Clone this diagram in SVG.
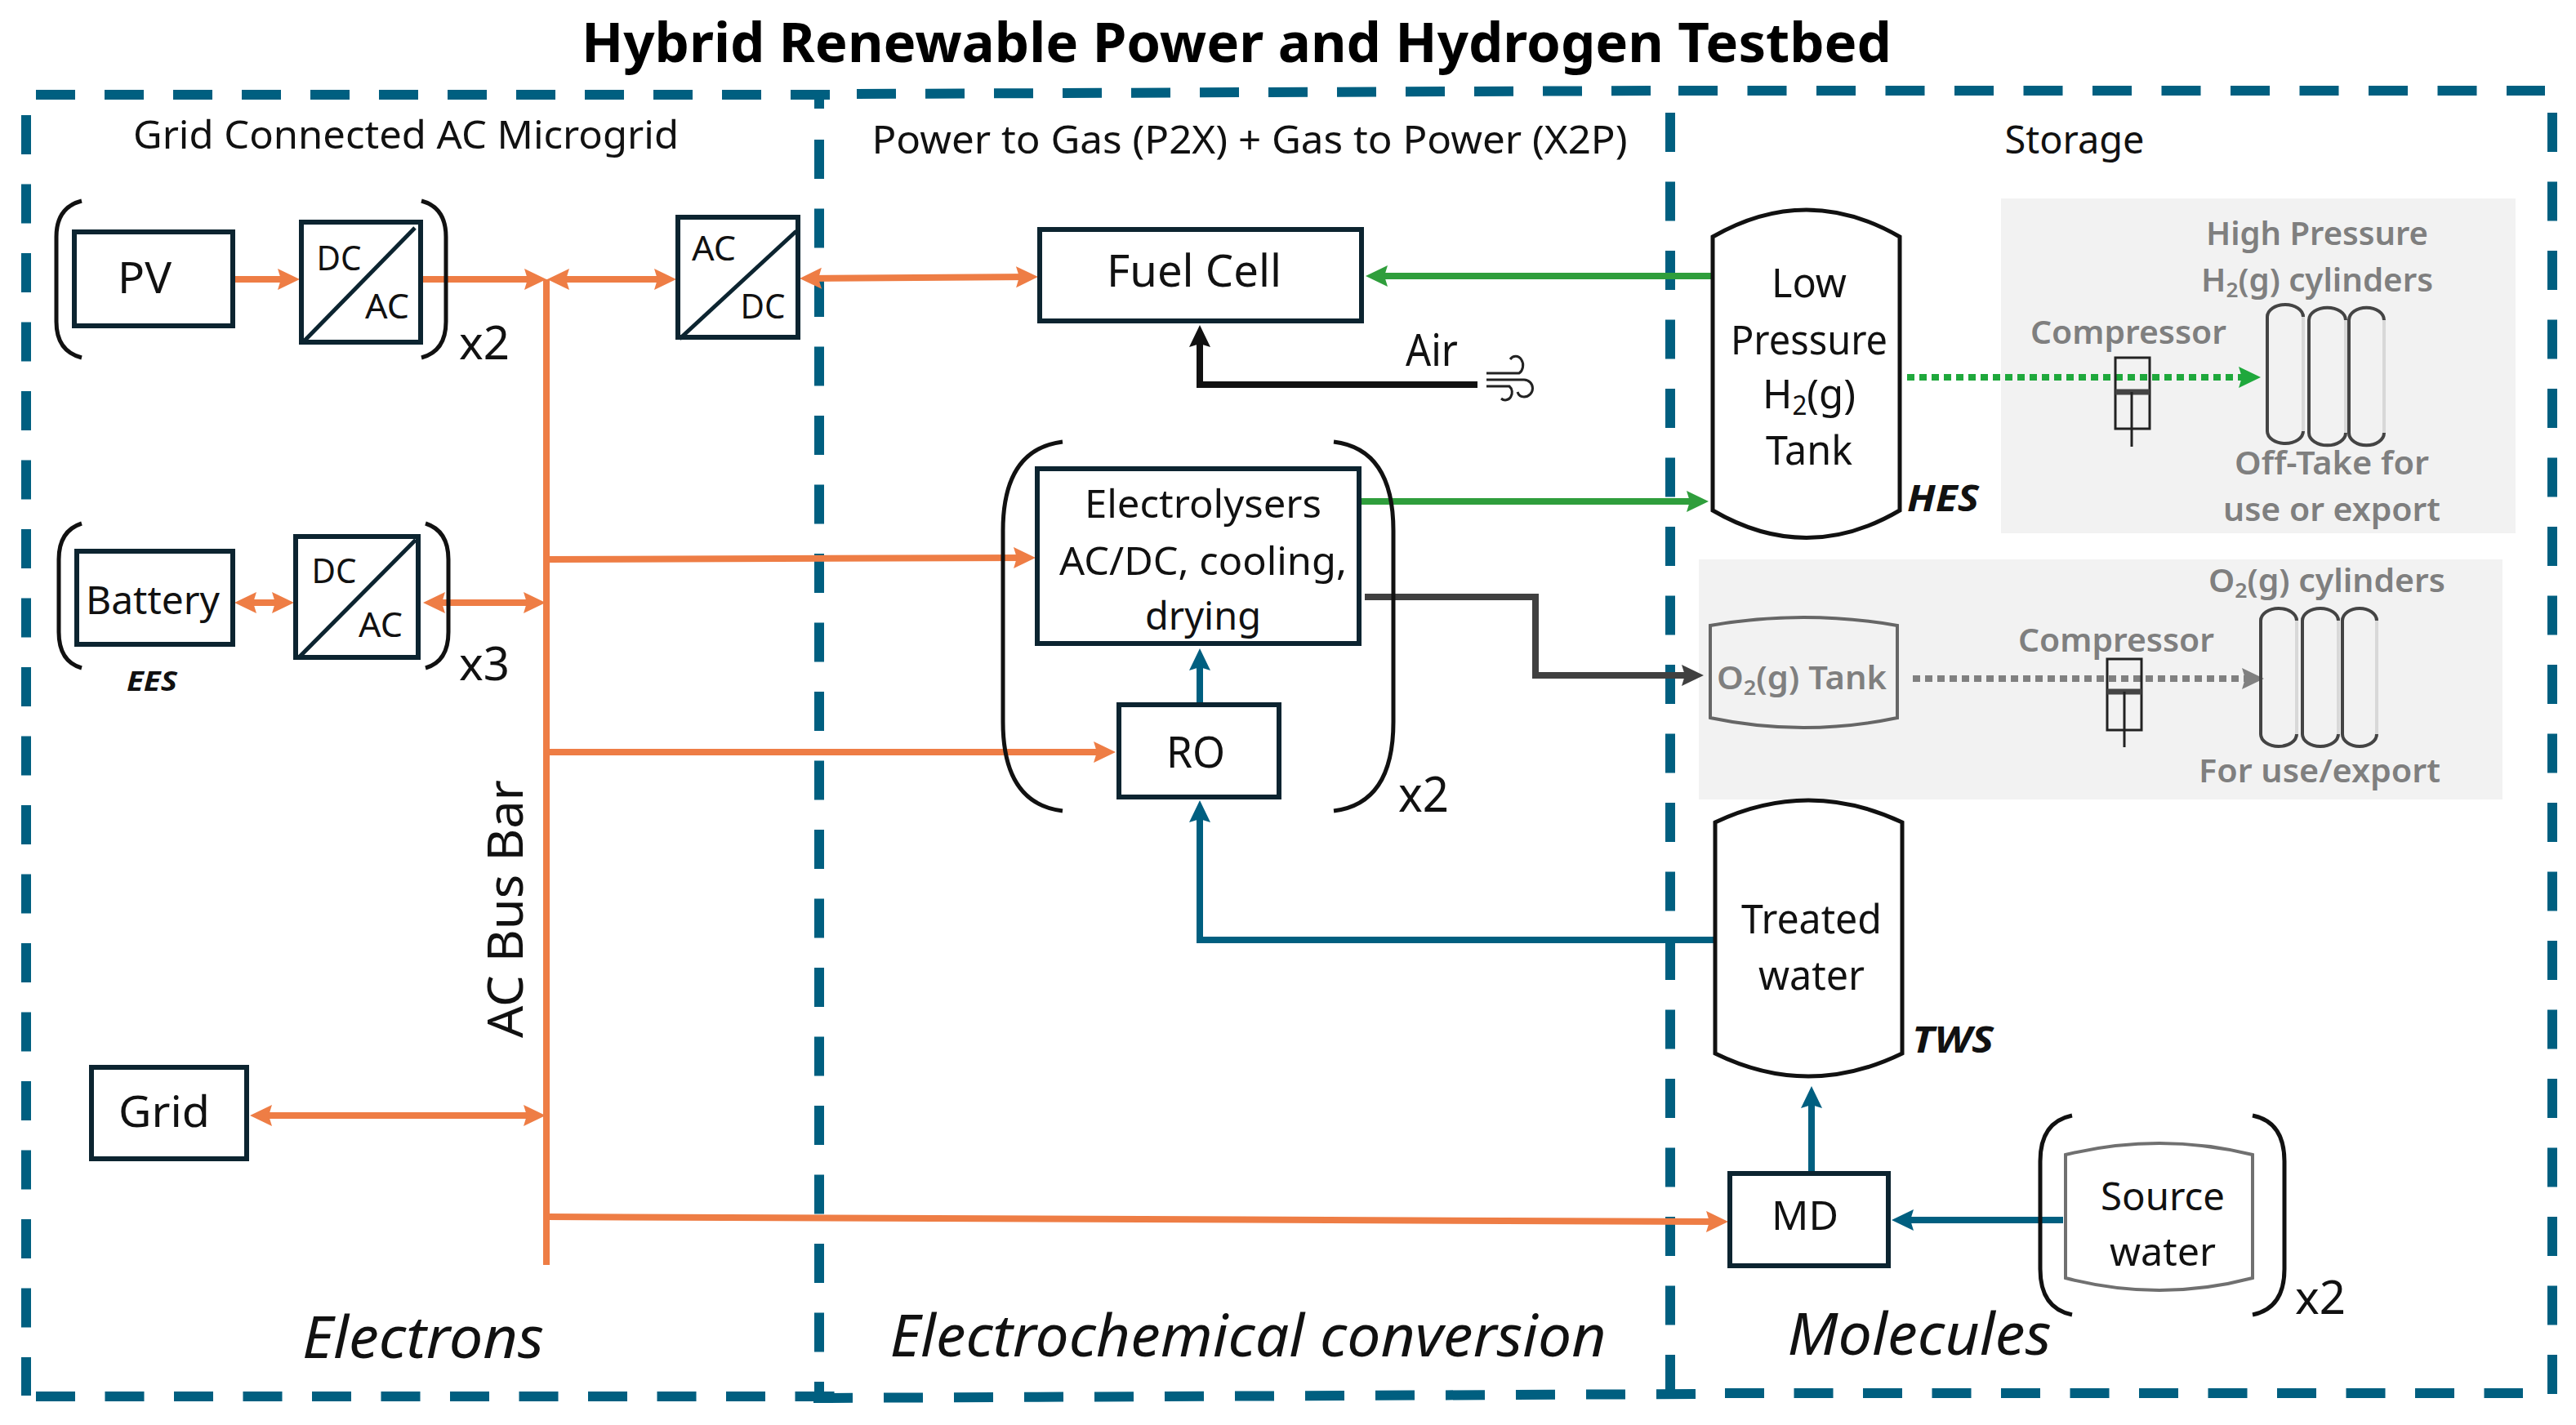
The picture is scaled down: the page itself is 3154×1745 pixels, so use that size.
<svg xmlns="http://www.w3.org/2000/svg" width="3154" height="1745" viewBox="0 0 3154 1745">
<style>
text{font-family:"Noto Sans","Open Sans","Liberation Sans",sans-serif;fill:#111;text-anchor:middle}
.g{fill:#7f7f7f;font-weight:600}
.it{font-style:italic}
.bd{font-style:italic;font-weight:700}
.box{fill:#fff;stroke:#0c2430;stroke-width:6}
.thin{fill:none;stroke:#0c2430;stroke-width:5}
.br{fill:none;stroke:#111;stroke-width:5}
.tank{fill:#fff;stroke:#111;stroke-width:5}
.dash{fill:none;stroke:#005f80;stroke-width:12;stroke-dasharray:48 36.5}
.or{fill:none;stroke:#ee7d45;stroke-width:8}
.gr{fill:none;stroke:#2f9e3c;stroke-width:8}
.te{fill:none;stroke:#005f80;stroke-width:8}
.bk{fill:none;stroke:#111;stroke-width:8}
.dk{fill:none;stroke:#404040;stroke-width:8}
.dotg{fill:none;stroke:#1fa83c;stroke-width:8;stroke-dasharray:9 6}
.dotk{fill:none;stroke:#808080;stroke-width:8;stroke-dasharray:9 6}
.cyl{fill:none;stroke:#444;stroke-width:4}
.cyr{fill:none;stroke:#d8d8d8;stroke-width:4}
</style>
<defs>
<marker id="ao" markerUnits="userSpaceOnUse" markerWidth="28" markerHeight="28" refX="18" refY="13" orient="auto-start-reverse"><path d="M0,0L27,13L0,26L4,13Z" fill="#ee7d45"/></marker>
<marker id="ag" markerUnits="userSpaceOnUse" markerWidth="28" markerHeight="28" refX="18" refY="13" orient="auto-start-reverse"><path d="M0,0L27,13L0,26L4,13Z" fill="#2f9e3c"/></marker>
<marker id="ad" markerUnits="userSpaceOnUse" markerWidth="28" markerHeight="28" refX="18" refY="13" orient="auto-start-reverse"><path d="M0,0L27,13L0,26L4,13Z" fill="#1fa83c"/></marker>
<marker id="at" markerUnits="userSpaceOnUse" markerWidth="28" markerHeight="28" refX="18" refY="13" orient="auto-start-reverse"><path d="M0,0L27,13L0,26L4,13Z" fill="#005f80"/></marker>
<marker id="ab" markerUnits="userSpaceOnUse" markerWidth="28" markerHeight="28" refX="18" refY="13" orient="auto-start-reverse"><path d="M0,0L27,13L0,26L4,13Z" fill="#111"/></marker>
<marker id="ak" markerUnits="userSpaceOnUse" markerWidth="28" markerHeight="28" refX="18" refY="13" orient="auto-start-reverse"><path d="M0,0L27,13L0,26L4,13Z" fill="#404040"/></marker>
<marker id="ah" markerUnits="userSpaceOnUse" markerWidth="28" markerHeight="28" refX="18" refY="13" orient="auto-start-reverse"><path d="M0,0L27,13L0,26L4,13Z" fill="#808080"/></marker>
</defs>
<rect width="3154" height="1745" fill="#fff"/>
<text x="1514" y="76" font-size="66" font-weight="700" textLength="1604" lengthAdjust="spacingAndGlyphs" style="fill:#000">Hybrid Renewable Power and Hydrogen Testbed</text>

<g id="backgrounds">
<rect x="2450" y="243" width="630" height="410" fill="#f2f2f2"/>
<rect x="2080" y="685" width="984" height="294" fill="#f2f2f2"/>
</g>

<g id="regions">
<path class="dash" style="stroke-dasharray:48 36" d="M44,116H1016"/>
<path class="dash" style="stroke-dasharray:48 36" d="M1049,115L2040,111"/>
<path class="dash" d="M2055,111H3116"/>
<path class="dash" d="M32,141V1709"/>
<path class="dash" d="M1003,116V133M1003,171V1716"/>
<path class="dash" d="M2045,138V1702"/>
<path class="dash" d="M3125,138V1710"/>
<path class="dash" d="M44,1710H1022"/>
<path class="dash" style="stroke-dasharray:48 38" d="M996,1712L2076,1707"/>
<path class="dash" d="M2112,1706H3089"/>
</g>

<g id="connectors">
<path class="or" d="M669,342V1549"/>
<path class="or" marker-end="url(#ao)" d="M287,342H358"/>
<path class="or" marker-end="url(#ao)" d="M516,342H660"/>
<path class="or" marker-start="url(#ao)" marker-end="url(#ao)" d="M679,342H819"/>
<path class="or" marker-start="url(#ao)" marker-end="url(#ao)" d="M988,341L1262,339"/>
<path class="or" marker-start="url(#ao)" marker-end="url(#ao)" d="M296,738H351"/>
<path class="or" marker-start="url(#ao)" marker-end="url(#ao)" d="M527,738H659"/>
<path class="or" marker-end="url(#ao)" d="M669,685L1259,683"/>
<path class="or" marker-end="url(#ao)" d="M669,921H1357"/>
<path class="or" marker-start="url(#ao)" marker-end="url(#ao)" d="M315,1366H659"/>
<path class="or" marker-end="url(#ao)" d="M669,1490L2107,1496"/>
<path class="gr" marker-end="url(#ag)" d="M2097,338H1681"/>
<path class="gr" marker-end="url(#ag)" d="M1666,614H2083"/>
<path class="bk" marker-end="url(#ab)" d="M1809,471H1469V407"/>
<path class="dk" marker-end="url(#ak)" d="M1671,731H1880V827H2077"/>
<path class="te" marker-end="url(#at)" d="M1469,861V803"/>
<path class="te" marker-end="url(#at)" d="M2100,1151H1469V989"/>
<path class="te" marker-end="url(#at)" d="M2218,1434V1339"/>
<path class="te" marker-end="url(#at)" d="M2526,1494H2325"/>
<path class="dotg" marker-end="url(#ad)" d="M2335,462H2759"/>
<path class="dotk" marker-end="url(#ah)" d="M2342,831H2763"/>
</g>

<g id="pv"><rect class="box" x="91" y="284" width="194" height="115"/><text x="177" y="359" font-size="52" textLength="66" lengthAdjust="spacingAndGlyphs">PV</text></g>
<g id="pv-converter"><rect class="box" x="369" y="272" width="146" height="147"/><path class="thin" d="M372,418L508,279"/><text x="415" y="331" font-size="42" textLength="55" lengthAdjust="spacingAndGlyphs">DC</text><text x="474" y="390" font-size="42" textLength="54" lengthAdjust="spacingAndGlyphs">AC</text></g>
<g id="pv-bracket"><path class="br" d="M100,246Q69,254 69,290V394Q69,430 100,438"/><path class="br" d="M516,246Q546,254 546,290V394Q546,430 516,438"/><text x="593" y="440" font-size="56" textLength="62" lengthAdjust="spacingAndGlyphs">x2</text></g>

<g id="battery"><rect class="box" x="94" y="675" width="191" height="114"/><text x="187" y="752" font-size="48" textLength="164" lengthAdjust="spacingAndGlyphs">Battery</text></g>
<g id="battery-converter"><rect class="box" x="362" y="657" width="150" height="148"/><path class="thin" d="M365,806L509,661"/><text x="409" y="714" font-size="42" textLength="55" lengthAdjust="spacingAndGlyphs">DC</text><text x="466" y="780" font-size="42" textLength="54" lengthAdjust="spacingAndGlyphs">AC</text></g>
<g id="battery-bracket"><path class="br" d="M100,641Q72,650 72,685V774Q72,810 100,818"/><path class="br" d="M521,641Q549,650 549,685V774Q549,810 521,818"/><text x="593" y="833" font-size="56" textLength="62" lengthAdjust="spacingAndGlyphs">x3</text><text class="bd" x="186" y="846" font-size="34" textLength="62" lengthAdjust="spacingAndGlyphs">EES</text></g>

<g id="grid"><rect class="box" x="112" y="1307" width="190" height="112"/><text x="201" y="1380" font-size="52" textLength="112" lengthAdjust="spacingAndGlyphs">Grid</text></g>
<g id="inverter"><rect class="box" x="830" y="266" width="147" height="147"/><path class="thin" d="M832,415L975,283"/><text x="874" y="319" font-size="42" textLength="54" lengthAdjust="spacingAndGlyphs">AC</text><text x="934" y="390" font-size="42" textLength="55" lengthAdjust="spacingAndGlyphs">DC</text></g>
<text id="bus-label" transform="translate(640,1113) rotate(-90)" x="0" y="0" font-size="60" textLength="316" lengthAdjust="spacingAndGlyphs">AC Bus Bar</text>

<g id="fuel-cell"><rect class="box" x="1273" y="281" width="394" height="112"/><text x="1462" y="351" font-size="54" textLength="214" lengthAdjust="spacingAndGlyphs">Fuel Cell</text></g>
<g id="air"><text x="1753" y="448" font-size="54" textLength="64" lengthAdjust="spacingAndGlyphs">Air</text><path fill="none" stroke="#222" stroke-width="3" d="M1820,457H1860A9,11 0 1 0 1849,440M1820,465H1866A10,10 0 0 1 1866,486Q1860,486 1858,480M1820,473H1848A8,9 0 1 1 1838,488"/></g>

<g id="electrolyser-bracket"><path class="br" d="M1301,541Q1228,550 1228,650V884Q1228,984 1301,993"/><path class="br" d="M1633,541Q1706,550 1706,650V884Q1706,984 1633,993"/><text x="1743" y="994" font-size="60" textLength="62" lengthAdjust="spacingAndGlyphs">x2</text></g>
<g id="electrolysers"><rect class="box" x="1270" y="574" width="394" height="214"/><text x="1473" y="634" font-size="48" textLength="290" lengthAdjust="spacingAndGlyphs">Electrolysers</text><text x="1473" y="704" font-size="48" textLength="352" lengthAdjust="spacingAndGlyphs">AC/DC, cooling,</text><text x="1473" y="771" font-size="48" textLength="142" lengthAdjust="spacingAndGlyphs">drying</text></g>
<g id="ro"><rect class="box" x="1370" y="863" width="196" height="113"/><text x="1464" y="940" font-size="52" textLength="72" lengthAdjust="spacingAndGlyphs">RO</text></g>

<g id="h2-tank"><path class="tank" d="M2097,290Q2212,224 2326,290V625Q2212,692 2097,625Z"/><text x="2215" y="364" font-size="50" textLength="92" lengthAdjust="spacingAndGlyphs">Low</text><text x="2215" y="434" font-size="50" textLength="192" lengthAdjust="spacingAndGlyphs">Pressure</text><text x="2215" y="500" font-size="50" textLength="114" lengthAdjust="spacingAndGlyphs">H<tspan font-size="32" dy="8">2</tspan><tspan dy="-8">(g)</tspan></text><text x="2215" y="569" font-size="50" textLength="106" lengthAdjust="spacingAndGlyphs">Tank</text><text class="bd" x="2379" y="626" font-size="45" textLength="88" lengthAdjust="spacingAndGlyphs">HES</text></g>
<g id="h2-compressor"><text class="g" x="2606" y="421" font-size="40" textLength="240" lengthAdjust="spacingAndGlyphs">Compressor</text><rect x="2590" y="438" width="42" height="87" fill="none" stroke="#222" stroke-width="3"/><path d="M2590,480H2632" stroke="#444" stroke-width="7"/><path d="M2610,480V547" stroke="#222" stroke-width="3"/></g>
<g id="h2-cylinders"><path class="cyr" d="M2820,388V528M2872,392V530M2919,392V530"/><path class="cyl" d="M2820,388A22,15 0 0 0 2776,388V528A22,15 0 0 0 2820,528"/><path class="cyl" d="M2872,392A22,15 0 0 0 2827,392V530A22,15 0 0 0 2872,530"/><path class="cyl" d="M2919,392A21,15 0 0 0 2876,392V530A21,15 0 0 0 2919,530"/><text class="g" x="2837" y="300" font-size="40" textLength="272" lengthAdjust="spacingAndGlyphs">High Pressure</text><text class="g" x="2837" y="357" font-size="40" textLength="284" lengthAdjust="spacingAndGlyphs">H<tspan font-size="26" dy="7">2</tspan><tspan dy="-7">(g) cylinders</tspan></text><text class="g" x="2855" y="581" font-size="40" textLength="238" lengthAdjust="spacingAndGlyphs">Off-Take for</text><text class="g" x="2855" y="638" font-size="40" textLength="266" lengthAdjust="spacingAndGlyphs">use or export</text></g>

<g id="o2-tank"><path d="M2094,766Q2208,746 2323,766V879Q2208,903 2094,879Z" fill="none" stroke="#666" stroke-width="4"/><text class="g" x="2206" y="844" font-size="40" textLength="208" lengthAdjust="spacingAndGlyphs">O<tspan font-size="26" dy="7">2</tspan><tspan dy="-7">(g) Tank</tspan></text></g>
<g id="o2-compressor"><text class="g" x="2591" y="798" font-size="40" textLength="240" lengthAdjust="spacingAndGlyphs">Compressor</text><rect x="2580" y="807" width="42" height="87" fill="none" stroke="#222" stroke-width="3"/><path d="M2580,847H2622" stroke="#444" stroke-width="7"/><path d="M2601,847V915" stroke="#222" stroke-width="3"/></g>
<g id="o2-cylinders"><path class="cyr" d="M2812,760V899M2863,760V899M2910,760V899"/><path class="cyl" d="M2812,760A22,15 0 0 0 2768,760V899A22,15 0 0 0 2812,899"/><path class="cyl" d="M2863,760A22,15 0 0 0 2819,760V899A22,15 0 0 0 2863,899"/><path class="cyl" d="M2910,760A21,15 0 0 0 2868,760V899A21,15 0 0 0 2910,899"/><text class="g" x="2849" y="725" font-size="40" textLength="290" lengthAdjust="spacingAndGlyphs">O<tspan font-size="26" dy="7">2</tspan><tspan dy="-7">(g) cylinders</tspan></text><text class="g" x="2840" y="958" font-size="40" textLength="296" lengthAdjust="spacingAndGlyphs">For use/export</text></g>

<g id="treated-water"><path class="tank" d="M2100,1007Q2214,953 2329,1007V1290Q2214,1346 2100,1290Z"/><text x="2218" y="1143" font-size="50" textLength="172" lengthAdjust="spacingAndGlyphs">Treated</text><text x="2218" y="1212" font-size="50" textLength="130" lengthAdjust="spacingAndGlyphs">water</text><text class="bd" x="2391" y="1289" font-size="45" textLength="100" lengthAdjust="spacingAndGlyphs">TWS</text></g>
<g id="md"><rect class="box" x="2118" y="1437" width="194" height="113"/><text x="2210" y="1506" font-size="50" textLength="82" lengthAdjust="spacingAndGlyphs">MD</text></g>
<g id="source-water"><path d="M2529,1414Q2644,1386 2758,1414V1565Q2644,1595 2529,1565Z" fill="#fff" stroke="#707070" stroke-width="4"/><text x="2648" y="1482" font-size="48" textLength="152" lengthAdjust="spacingAndGlyphs">Source</text><text x="2648" y="1550" font-size="48" textLength="130" lengthAdjust="spacingAndGlyphs">water</text><path class="br" d="M2537,1366Q2498,1374 2498,1422V1554Q2498,1602 2537,1610"/><path class="br" d="M2758,1366Q2797,1374 2797,1422V1554Q2797,1602 2758,1610"/><text x="2841" y="1609" font-size="56" textLength="62" lengthAdjust="spacingAndGlyphs">x2</text></g>

<g id="section-labels">
<text x="497" y="182" font-size="48" textLength="668" lengthAdjust="spacingAndGlyphs">Grid Connected AC Microgrid</text>
<text x="1530" y="188" font-size="48" textLength="925" lengthAdjust="spacingAndGlyphs">Power to Gas (P2X) + Gas to Power (X2P)</text>
<text x="2540" y="188" font-size="48" textLength="171" lengthAdjust="spacingAndGlyphs">Storage</text>
<text class="it" x="518" y="1663" font-size="72" textLength="296" lengthAdjust="spacingAndGlyphs">Electrons</text>
<text class="it" x="1528" y="1661" font-size="72" textLength="877" lengthAdjust="spacingAndGlyphs">Electrochemical conversion</text>
<text class="it" x="2350" y="1659" font-size="72" textLength="323" lengthAdjust="spacingAndGlyphs">Molecules</text>
</g>
</svg>
